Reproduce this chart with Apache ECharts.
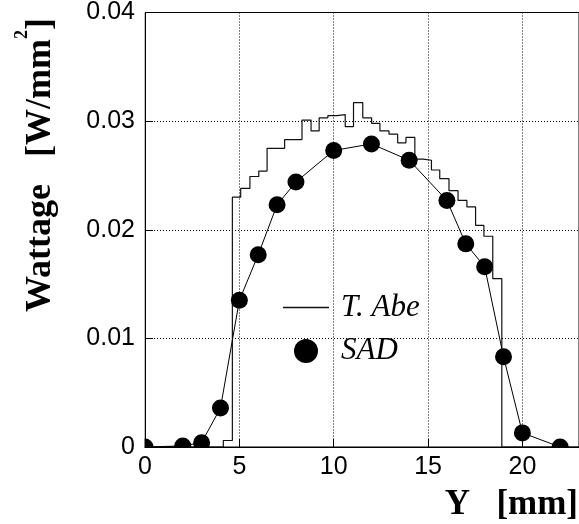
<!DOCTYPE html>
<html>
<head>
<meta charset="utf-8">
<script src="https://cdn.jsdelivr.net/npm/echarts@6/dist/echarts.min.js"></script>
<style>
html, body { margin: 0; padding: 0; background: #fff; }
#main { width: 579px; height: 524px; }
</style>
</head>
<body>
<div id="main"></div>
<script>
// T. Abe: left edge of each step [mm] and its value [W/mm^2]
var abeEdges = [0, 4.15, 4.63, 5.07, 5.56, 6.03, 6.47, 7.40, 8.32, 8.80, 9.23, 9.69, 10.17,
    10.61, 11.05, 11.54, 12.01, 12.45, 12.93, 13.39, 13.83, 14.30, 14.74, 15.18, 15.62,
    16.11, 16.59, 17.06, 17.52, 17.96, 18.43, 18.91, 23];
var abeValues = [0, 0.0006, 0.0230, 0.0238, 0.0249, 0.0254, 0.0275, 0.0283, 0.0301, 0.0291,
    0.0303, 0.0305, 0.0306, 0.0295, 0.0317, 0.0303, 0.0298, 0.0291, 0.0288, 0.0280, 0.0285,
    0.0265, 0.0264, 0.0255, 0.0247, 0.0236, 0.0227, 0.0221, 0.0204, 0.0194, 0.0155, 0, 0];

// SAD points
var sadY = [0, 2, 3, 4, 5, 6, 7, 8, 10, 12, 14, 16, 17, 18, 19, 20, 22];
var sadW = [0, 0.0001, 0.0004, 0.0036, 0.0135, 0.0177, 0.0223, 0.0244, 0.0273, 0.0279,
    0.0264, 0.0227, 0.0187, 0.0166, 0.0083, 0.0013, 0];

var abeData = abeEdges.map(function (x, i) { return [x, abeValues[i]]; });
var sadData = sadY.map(function (x, i) { return [x, sadW[i]]; });

var chart = echarts.init(document.getElementById('main'));

var option = {
    animation: false,
    backgroundColor: '#fff',
    grid: {
        left: 145,
        top: 8,
        width: 435,
        height: 439,
        show: true,
        borderColor: '#000',
        borderWidth: 1,
        backgroundColor: 'transparent'
    },
    xAxis: {
        type: 'value',
        min: 0,
        max: 23,
        interval: 5,
        z: 10,
        axisLine: { show: true, lineStyle: { color: '#000', width: 1 } },
        axisTick: { show: true, inside: true, length: 8, lineStyle: { color: '#000' } },
        axisLabel: {
            margin: 8,
            color: '#000',
            fontFamily: 'Liberation Sans',
            fontSize: 25,
            showMaxLabel: false,
            formatter: function (v) { return v % 5 === 0 ? String(v) : ''; }
        },
        splitLine: { show: true, lineStyle: { color: '#000', width: 1, type: [1, 2] } }
    },
    yAxis: {
        type: 'value',
        min: 0,
        max: 0.04,
        interval: 0.01,
        z: 10,
        axisLine: { show: true, lineStyle: { color: '#000', width: 1 } },
        axisTick: { show: true, inside: true, length: 8, lineStyle: { color: '#000' } },
        axisLabel: {
            margin: 10,
            color: '#000',
            fontFamily: 'Liberation Sans',
            fontSize: 25
        },
        splitLine: { show: true, lineStyle: { color: '#000', width: 1, type: [1, 2] } }
    },
    legend: {
        orient: 'vertical',
        left: 278,
        top: 287,
        itemWidth: 46,
        itemHeight: 24,
        itemGap: 12.4,
        selectedMode: false,
        symbolKeepAspect: true,
        textStyle: {
            fontFamily: 'Liberation Serif',
            fontStyle: 'italic',
            fontSize: 31,
            color: '#000',
            lineHeight: 24,
            padding: [0, 0, 0, 7]
        },
        data: [
            { name: 'T. Abe', icon: 'path://M0,0h46v1.3h-46z' },
            { name: 'SAD', icon: 'circle' }
        ]
    },
    graphic: [
        // white masks so markers are cut at the frame
        { type: 'rect', z: 5, silent: true, shape: { x: 0, y: 447.5, width: 579, height: 77 }, style: { fill: '#fff' } },
        { type: 'rect', z: 5, silent: true, shape: { x: 0, y: 0, width: 144.5, height: 524 }, style: { fill: '#fff' } },
        {
            type: 'text', z: 20, x: 41, y: 312, rotation: Math.PI / 2,
            style: {
                text: '{b|Wattage   [W/mm}{s|2}{b|]}',
                align: 'left',
                verticalAlign: 'middle',
                fill: '#000',
                rich: {
                    b: { fontFamily: 'Liberation Serif', fontWeight: 'bold', fontSize: 36, lineHeight: 56, fill: '#000' },
                    s: { fontFamily: 'Liberation Serif', fontWeight: 'bold', fontSize: 18, lineHeight: 18, verticalAlign: 'top', fill: '#000' }
                }
            }
        },
        {
            type: 'text', z: 20, x: 578, y: 505,
            style: {
                text: 'Y   [mm]',
                fontFamily: 'Liberation Serif',
                fontWeight: 'bold',
                fontSize: 35,
                fill: '#000',
                align: 'right',
                verticalAlign: 'middle'
            }
        }
    ],
    series: [
        {
            name: 'T. Abe',
            type: 'line',
            step: 'end',
            data: abeData,
            symbol: 'none',
            z: 2,
            lineStyle: { color: '#111', width: 1.2 },
            itemStyle: { color: '#111' }
        },
        {
            name: 'SAD',
            type: 'line',
            data: sadData,
            symbol: 'circle',
            symbolSize: 17,
            showAllSymbol: true,
            z: 3,
            lineStyle: { color: '#000', width: 1 },
            itemStyle: { color: '#000' }
        }
    ]
};

chart.setOption(option);
</script>
</body>
</html>
